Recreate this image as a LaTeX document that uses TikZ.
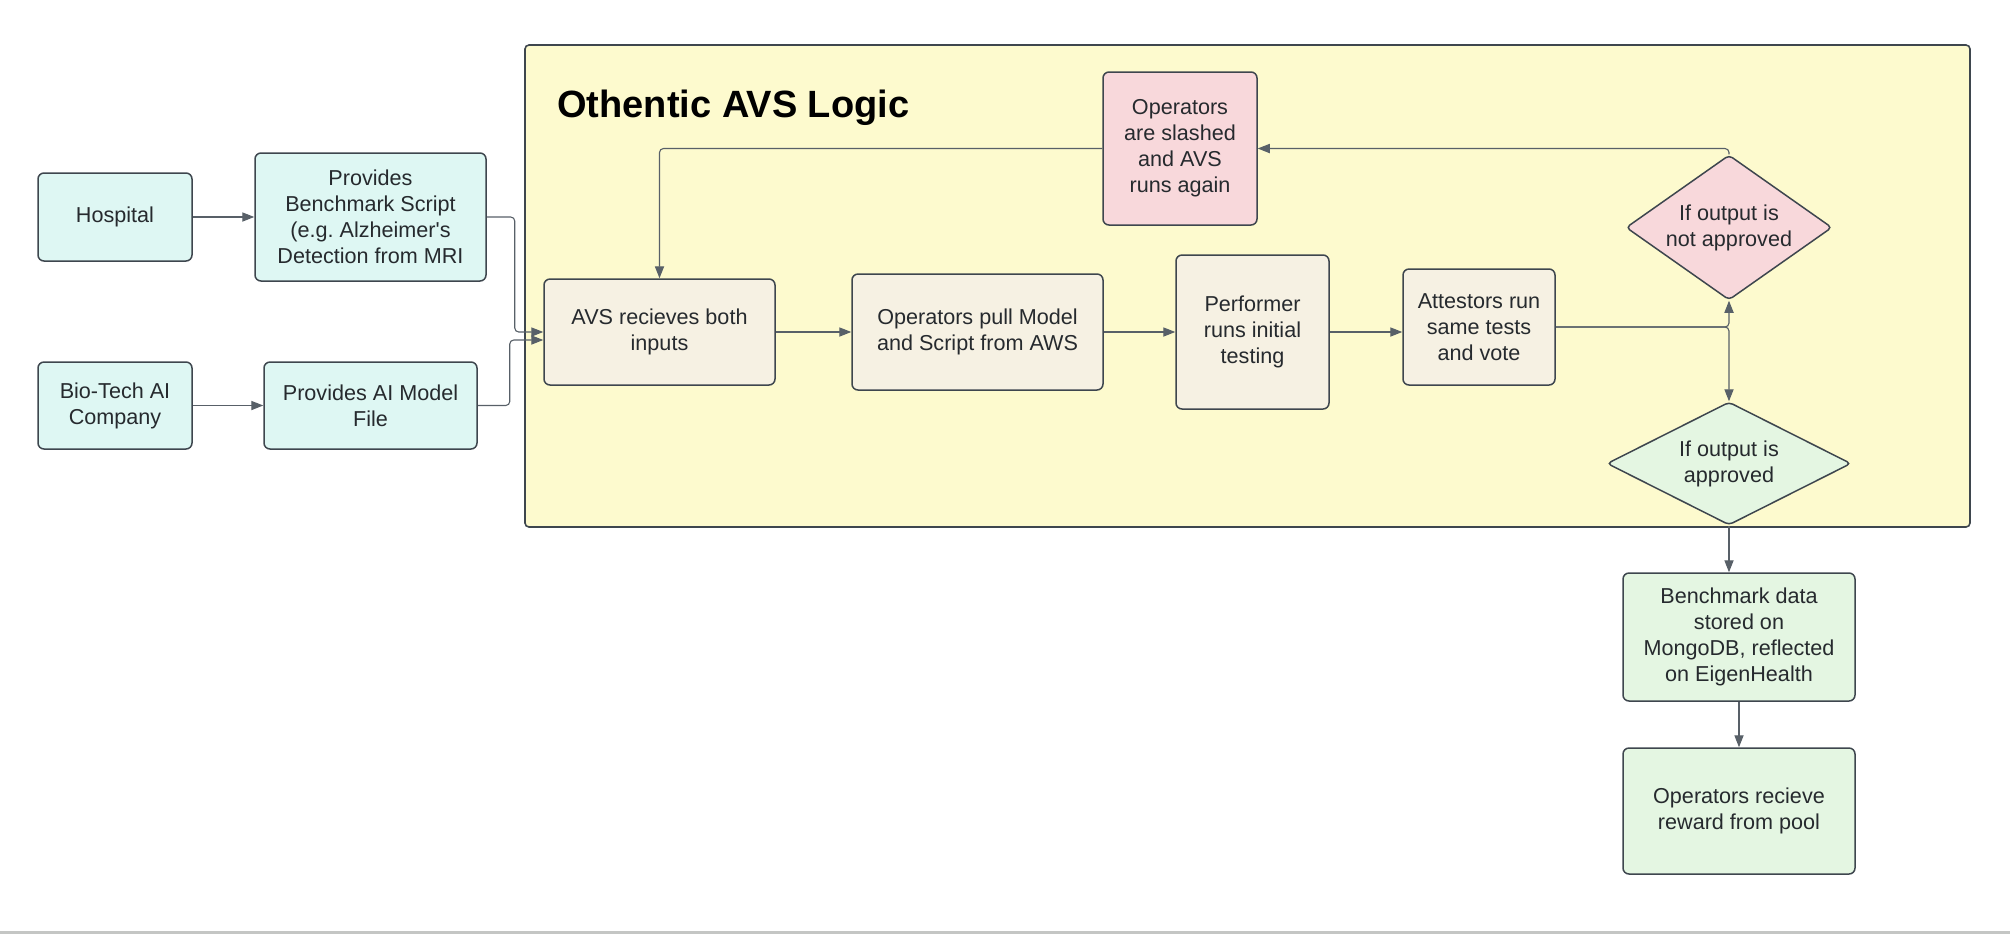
\documentclass[tikz,border=0pt]{standalone}
\usepackage{fontspec}
\setmainfont{Liberation Sans}[Ligatures=TeXOff]
\usetikzlibrary{positioning,shapes.geometric,arrows.meta}
\definecolor{edge}{RGB}{62,70,78}
\definecolor{wire}{RGB}{88,96,104}
\definecolor{ink}{RGB}{38,42,46}
\definecolor{aqua}{RGB}{222,247,243}
\definecolor{sand}{RGB}{246,241,227}
\definecolor{rose}{RGB}{248,216,219}
\definecolor{mint}{RGB}{228,246,226}
\definecolor{lemon}{RGB}{253,250,206}
\definecolor{rule}{RGB}{196,198,196}
\frenchspacing

\begin{document}
\begin{tikzpicture}[x=0.5pt,y=-0.5pt]
 \useasboundingbox (0,0) rectangle (2010,934);
 \fill[rule] (0,931) rectangle (2010,934);
 \tikzstyle{card} = [rectangle,rounded corners=3pt,draw=edge,line width=0.75pt,align=center,text=ink,font=\fontsize{10.8}{13}\selectfont,inner sep=1pt]
 \tikzstyle{choice} = [diamond,rounded corners=2pt,draw=edge,line width=0.75pt,align=center,text=ink,font=\fontsize{10.8}{13}\selectfont,inner sep=0.5pt]
 \tikzstyle{flow} = [draw=wire,line width=0.55pt,rounded corners=2pt,-{Triangle[length=6pt,width=4.6pt]}]
 \node[rectangle,rounded corners=2pt,draw=edge,line width=0.8pt,fill=lemon,minimum width=722.5pt,minimum height=241pt] (avs) at (1247.5,286) {};
 \node[anchor=base west,inner sep=0,text=black,font=\bfseries\fontsize{19}{22}\selectfont] (title) at (557,117) {Othentic AVS Logic};
 \node[card,fill=aqua,minimum width=77pt,minimum height=44pt] (hospital) at (115,217) {Hospital};
 \node[card,fill=aqua,minimum width=115.5pt,minimum height=64pt] (script) at (370.5,217) {Provides\\Benchmark Script\\(e.g. Alzheimer's\\Detection from MRI};
 \node[card,fill=aqua,minimum width=77pt,minimum height=43.5pt] (biotech) at (115,405.5) {Bio-Tech AI\\Company};
 \node[card,fill=aqua,minimum width=106.5pt,minimum height=43.5pt] (model) at (370.5,405.5) {Provides AI Model\\File};
 \node[card,fill=sand,minimum width=115.5pt,minimum height=53pt] (receive) at (659.5,332) {AVS recieves both\\inputs};
 \node[card,fill=sand,minimum width=125.5pt,minimum height=58pt] (pull) at (977.5,332) {Operators pull Model\\and Script from AWS};
 \node[card,fill=sand,minimum width=76.5pt,minimum height=77pt] (perform) at (1252.5,332) {Performer\\runs initial\\testing};
 \node[card,fill=sand,minimum width=76pt,minimum height=58pt] (attest) at (1479,327) {Attestors run\\same tests\\and vote};
 \node[card,fill=rose,minimum width=77pt,minimum height=76.5pt] (slash) at (1180,148.5) {Operators\\are slashed\\and AVS\\runs again};
 \node[choice,fill=rose,aspect=1.42,minimum width=103pt,minimum height=72.5pt] (notok) at (1729,227.5) {If output is\\not approved};
 \node[choice,fill=mint,aspect=2,minimum width=122pt,minimum height=61.5pt] (ok) at (1729,463.5) {If output is\\approved};
 \node[card,fill=mint,minimum width=116pt,minimum height=64pt] (store) at (1739,637) {Benchmark data\\stored on\\MongoDB, reflected\\on EigenHealth};
 \node[card,fill=mint,minimum width=116pt,minimum height=63pt] (reward) at (1739,811) {Operators recieve\\reward from pool};
 \draw[flow] (hospital) -- (script);
 \draw[flow] (biotech) -- (model);
 \draw[flow] (script.east) -- ++(28,0) |- (receive.west);
 \draw[flow] (model.east) -- ++(32,0) |- ([yshift=-4pt]receive.west);
 \draw[flow] (receive) -- (pull);
 \draw[flow] (pull) -- (perform);
 \draw[flow] (perform.east) -- (perform.east -| attest.west);
 \draw[flow] (attest.east) -| (notok.south);
 \draw[flow] (attest.east) -| (ok.north);
 \draw[flow] (notok.north) |- (slash.east);
 \draw[flow] (slash.west) -| (receive.north);
 \draw[flow] (ok.south) -- (ok.south |- store.north);
 \draw[flow] (store) -- (reward);
\end{tikzpicture}
\end{document}
